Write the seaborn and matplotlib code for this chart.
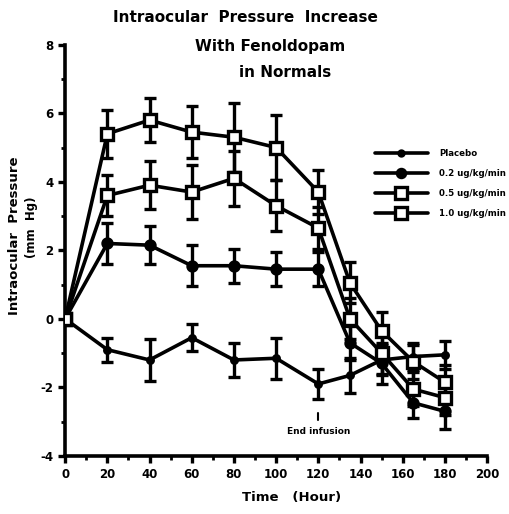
import matplotlib
matplotlib.use("Agg")
import matplotlib.pyplot as plt
import seaborn as sns
import pandas as pd
import numpy as np

time = [0, 20, 40, 60, 80, 100, 120, 135, 150, 165, 180]
placebo = [0, -0.9, -1.2, -0.55, -1.2, -1.15, -1.9, -1.65, -1.2, -1.1, -1.05]
placebo_err = [0, 0.35, 0.6, 0.4, 0.5, 0.6, 0.45, 0.5, 0.45, 0.4, 0.4]
dose02 = [0, 2.2, 2.15, 1.55, 1.55, 1.45, 1.45, -0.7, -1.3, -2.45, -2.7]
dose02_err = [0, 0.6, 0.55, 0.6, 0.5, 0.5, 0.5, 0.5, 0.6, 0.45, 0.5]
dose05 = [0, 3.6, 3.9, 3.7, 4.1, 3.3, 2.65, 0.0, -1.0, -2.05, -2.3]
dose05_err = [0, 0.6, 0.7, 0.8, 0.8, 0.75, 0.6, 0.6, 0.6, 0.5, 0.5]
dose10 = [0, 5.4, 5.8, 5.45, 5.3, 5.0, 3.7, 1.05, -0.35, -1.25, -1.85]
dose10_err = [0, 0.7, 0.65, 0.75, 1.0, 0.95, 0.65, 0.6, 0.55, 0.5, 0.5]
series_names = ["Placebo", "0.2 ug/kg/min", "0.5 ug/kg/min", "1.0 ug/kg/min"]

sns.set_style("ticks")
plt.rcParams["font.family"] = ["DejaVu Sans"]
plt.rcParams["font.weight"] = "bold"
plt.rcParams["axes.unicode_minus"] = False
plt.rcParams["text.color"] = "black"
plt.rcParams["xtick.color"] = "black"
plt.rcParams["ytick.color"] = "black"
plt.rcParams["axes.edgecolor"] = "black"

fig = plt.figure(figsize=(5.09, 5.14), dpi=100)
ax = fig.add_axes([0.128, 0.113, 0.829, 0.80])

vals = [placebo, dose02, dose05, dose10]
errs = [placebo_err, dose02_err, dose05_err, dose10_err]
styles = [
    dict(marker="o", ms=4, mfc="black"),
    dict(marker="o", ms=6.5, mfc="black"),
    dict(marker="s", ms=9, mfc="white"),
    dict(marker="s", ms=9, mfc="white"),
]
frames = []
for name, v in zip(series_names, vals):
    frames.append(pd.DataFrame({"time": time, "iop": v, "group": name}))
df = pd.concat(frames)

for name, v, e, st in zip(series_names, vals, errs, styles):
    sub = df[df.group == name]
    ax.errorbar(time, v, yerr=e, fmt="none", ecolor="black", elinewidth=2.4,
                capsize=4, capthick=2.4, zorder=2)
    sns.lineplot(data=sub, x="time", y="iop", ax=ax, color="black", lw=2.6,
                 marker=st["marker"], markersize=st["ms"],
                 markerfacecolor=st["mfc"], markeredgecolor="black",
                 markeredgewidth=2.4, zorder=3, legend=False)

ax.set_xlim(0, 200)
ax.set_ylim(-4, 8)
ax.set_xticks(np.arange(0, 201, 20))
ax.set_xticks(np.arange(0, 201, 10), minor=True)
ax.set_yticks(np.arange(-4, 9, 2))
ax.set_yticks(np.arange(-4, 9, 1), minor=True)
ax.tick_params(axis="both", which="major", length=5, width=2.4, labelsize=8.5)
ax.tick_params(axis="both", which="minor", length=3, width=2)
for lab in ax.get_xticklabels() + ax.get_yticklabels():
    lab.set_fontweight("bold")
for s in ["top", "right"]:
    ax.spines[s].set_visible(False)
for s in ["left", "bottom"]:
    ax.spines[s].set_linewidth(2.6)
ax.set_xlabel("")
ax.set_ylabel("")

# legend drawn manually in figure coords
leg_y = [153, 173, 193, 213]
for name, st, y in zip(series_names, styles, leg_y):
    fy = 1 - y / 514
    fig.add_artist(plt.Line2D([375 / 509, 428 / 509], [fy, fy], color="black", lw=2.6,
                              transform=fig.transFigure))
    fig.add_artist(plt.Line2D([401 / 509], [fy], marker=st["marker"], ms=st["ms"] * 0.9,
                              mfc=st["mfc"], mec="black", mew=2.4, color="black",
                              transform=fig.transFigure))
    fig.text(439 / 509, fy, name, fontsize=6.2, fontweight="bold", va="center", ha="left")

fig.text(245 / 509, 1 - 18 / 514, "Intraocular  Pressure  Increase", fontsize=11,
         fontweight="bold", ha="center", va="center")
fig.text(270 / 509, 1 - 46 / 514, "With Fenoldopam", fontsize=11,
         fontweight="bold", ha="center", va="center")
fig.text(285 / 509, 1 - 73 / 514, "in Normals", fontsize=11,
         fontweight="bold", ha="center", va="center")

fig.text(15 / 509, 1 - 236 / 514, "Intraocular  Pressure", fontsize=9.5,
         fontweight="bold", rotation=90, ha="center", va="center")
fig.text(31 / 509, 1 - 227 / 514, "(mm  Hg)", fontsize=8.5,
         fontweight="bold", rotation=90, ha="center", va="center")

fig.text(292 / 509, 1 - 497 / 514, "Time   (Hour)", fontsize=9.5,
         fontweight="bold", ha="center", va="center")

ax.plot([120, 120], [-2.75, -2.95], color="black", lw=1.5)
ax.text(120, -3.3, "End infusion", fontsize=6.5, fontweight="bold",
        ha="center", va="center")

fig.savefig("out.png", dpi=100)
